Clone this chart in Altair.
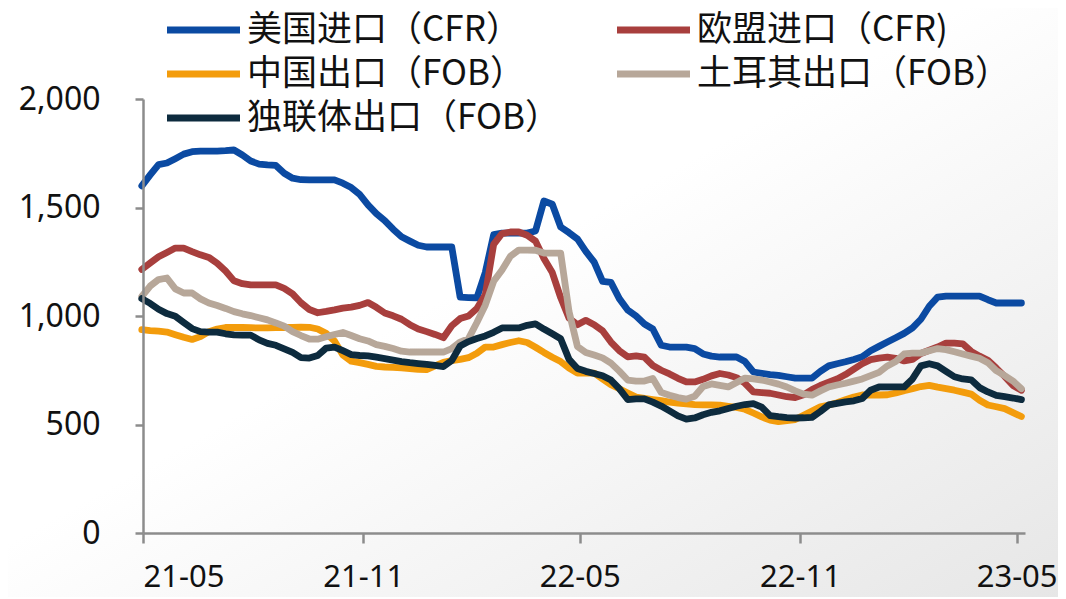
import altair as alt
import pandas as pd

# ---------------- data ----------------
series_names = ["美国进口（CFR）", "欧盟进口（CFR)", "中国出口（FOB）", "土耳其出口（FOB）", "独联体出口（FOB）"]
series_colors = ["#0B4AA2", "#A83F3D", "#F39C0C", "#B7A799", "#0D2B3E"]

# weekly observations (Fridays)
weeks = pd.date_range("2021-04-30", periods=106, freq="7D")

us_import = [1600, 1650, 1698, 1705, 1725, 1746, 1757, 1760, 1760, 1760,
             1762, 1765, 1742, 1714, 1700, 1696, 1694, 1658, 1635, 1628,
             1627, 1627, 1627, 1627, 1612, 1592, 1560, 1512, 1472, 1440,
             1400, 1365, 1345, 1326, 1318, 1318, 1318, 1318, 1087, 1085,
             1084, 1200, 1375, 1382, 1382, 1382, 1382, 1392, 1530, 1515,
             1410, 1384, 1355, 1298, 1248, 1160, 1155, 1080, 1028, 1000,
             963, 940, 865, 857, 857, 857, 850, 825, 815, 811,
             811, 811, 790, 742, 736, 730, 726, 720, 714, 714,
             714, 745, 770, 780, 789, 800, 812, 840, 860, 880,
             900, 920, 945, 985, 1045, 1087, 1092, 1092, 1092, 1092,
             1092, 1075, 1060, 1060, 1060, 1060]

eu_import = [1215, 1244, 1273, 1293, 1313, 1313, 1297, 1282, 1270, 1243,
             1207, 1162, 1149, 1143, 1143, 1143, 1143, 1127, 1102, 1061,
             1030, 1015, 1021, 1028, 1036, 1041, 1049, 1062, 1040, 1014,
             1001, 985, 960, 940, 928, 915, 900, 955, 988, 1000,
             1035, 1098, 1330, 1380, 1387, 1387, 1372, 1345, 1265, 1200,
             1085, 990, 960, 980, 960, 932, 880, 840, 812, 816,
             810, 772, 750, 733, 713, 696, 696, 708, 724, 735,
             728, 716, 690, 650, 647, 644, 636, 628, 624, 637,
             661, 680, 695, 710, 730, 755, 780, 799, 806, 810,
             805, 793, 800, 827, 842, 857, 875, 875, 872, 837,
             815, 796, 760, 722, 680, 658]

cn_export = [937, 933, 930, 926, 914, 902, 892, 905, 928, 940,
             947, 948, 947, 946, 945, 945, 946, 947, 948, 949,
             948, 940, 920, 885, 820, 792, 785, 777, 768, 765,
             763, 761, 758, 754, 753, 770, 786, 794, 800, 808,
             828, 857, 857, 868, 878, 886, 878, 856, 832, 810,
             790, 760, 737, 737, 737, 710, 683, 665, 645, 626,
             620, 615, 610, 603, 598, 595, 592, 590, 590, 589,
             584, 579, 570, 553, 535, 520, 513, 518, 523, 543,
             562, 582, 590, 600, 614, 627, 636, 636, 636, 637,
             645, 656, 665, 675, 680, 672, 665, 658, 649, 640,
             612, 590, 582, 573, 555, 537]

tr_export = [1090, 1138, 1168, 1175, 1125, 1106, 1106, 1079, 1060, 1048,
             1035, 1020, 1010, 1002, 992, 982, 968, 953, 928, 910,
             894, 893, 904, 915, 924, 910, 895, 885, 868, 860,
             850, 838, 834, 834, 834, 834, 834, 850, 880, 896,
             970, 1050, 1160, 1212, 1275, 1304, 1304, 1303, 1290, 1290,
             1290, 1020, 860, 832, 820, 807, 783, 746, 705, 700,
             700, 712, 648, 635, 624, 617, 630, 675, 687, 680,
             673, 694, 714, 710, 705, 696, 686, 673, 655, 640,
             635, 655, 673, 682, 690, 700, 710, 725, 740, 770,
             790, 825, 829, 829, 840, 850, 845, 835, 825, 815,
             805, 785, 748, 725, 700, 665]

cis_export = [1080, 1058, 1031, 1011, 999, 970, 942, 928, 926, 926,
              918, 913, 912, 912, 890, 874, 865, 849, 832, 808,
              806, 818, 852, 857, 840, 822, 818, 816, 810, 804,
              797, 790, 785, 781, 777, 772, 767, 795, 862, 882,
              896, 908, 925, 945, 945, 945, 957, 964, 940, 918,
              895, 800, 758, 745, 735, 725, 705, 665, 615, 618,
              618, 603, 585, 563, 540, 525, 530, 545, 556, 563,
              574, 584, 592, 596, 580, 541, 536, 532, 530, 531,
              533, 560, 590, 597, 604, 609, 620, 658, 673, 673,
              673, 673, 710, 770, 780, 770, 745, 720, 710, 706,
              670, 650, 634, 628, 622, 615]

y_ticks = [0, 500, 1000, 1500, 2000]
x_tick_months = [(2021, 5), (2021, 11), (2022, 5), (2022, 11), (2023, 5)]

rows = []
for name, vals in zip(series_names, [us_import, eu_import, cn_export, tr_export, cis_export]):
    for d, v in zip(weeks, vals):
        rows.append({"date": d, "series": name, "price": v})
df = pd.DataFrame(rows)

# ---------------- chart ----------------
W, H = 882, 434
PAD_L, PAD_T = 135, 91
AXIS_GRAY = "#8c8c8c"

x_domain = [alt.DateTime(year=2021, month=5, date=1), alt.DateTime(year=2023, month=5, date=8)]
tick_dates = [alt.DateTime(year=y, month=m, date=1) for y, m in x_tick_months]

x_enc = alt.X(
    "date:T",
    title=None,
    scale=alt.Scale(domain=x_domain),
    axis=alt.Axis(values=tick_dates, format="%y-%m", tickSize=10, labelPadding=19,
                  labelFont="Noto Sans", labelFontSize=31, labelColor="#111111",
                  domainColor=AXIS_GRAY, domainWidth=2.5, tickColor=AXIS_GRAY, tickWidth=2.5,
                  grid=False, zindex=1),
)
y_enc = alt.Y(
    "price:Q",
    title=None,
    scale=alt.Scale(domain=[0, 2000], nice=False),
    axis=alt.Axis(values=y_ticks, format=",d", tickSize=8, labelPadding=35,
                  labelFont="Noto Sans", labelFontSize=32, labelColor="#111111",
                  domainColor=AXIS_GRAY, domainWidth=2.5, tickColor=AXIS_GRAY, tickWidth=2.5,
                  grid=False, zindex=1),
)

color_scale = alt.Scale(domain=series_names, range=series_colors)

bg = alt.Chart(pd.DataFrame({"k": [0]})).mark_rect(
    fill=alt.LinearGradient(
        gradient="linear", x1=0, y1=0, x2=1, y2=1,
        stops=[alt.GradientStop(offset=0, color="#ffffff"),
               alt.GradientStop(offset=0.45, color="#ffffff"),
               alt.GradientStop(offset=1, color="#e6e6e6")],
    )
).encode(x=alt.value(-PAD_L), x2=alt.value(W + 40), y=alt.value(-PAD_T), y2=alt.value(H + 70))

layers = [bg]
for name in series_names:
    layers.append(
        alt.Chart(df)
        .transform_filter(alt.datum.series == name)
        .mark_line(strokeWidth=6.8, strokeJoin="round", strokeCap="round")
        .encode(x=x_enc, y=y_enc, color=alt.Color("series:N", scale=color_scale, legend=None))
    )

# ---- legend (2 columns, row-major), laid out relative to the plot origin ----
LEG_X0, LEG_COL_W = 24, 450
LEG_Y0, LEG_ROW_H = -69, 44
SYM_LEN, LABEL_GAP = 73, 80
for i, (name, col) in enumerate(zip(series_names, series_colors)):
    c, r = i % 2, i // 2
    sx = LEG_X0 + c * LEG_COL_W
    sy = LEG_Y0 + r * LEG_ROW_H
    lab = alt.Chart(pd.DataFrame({"label": [name]}))
    layers.append(
        lab.mark_rule(strokeWidth=7, color=col).encode(
            x=alt.value(sx), x2=alt.value(sx + SYM_LEN), y=alt.value(sy)
        )
    )
    layers.append(
        lab.mark_text(align="left", baseline="middle", font="Noto Sans CJK SC",
                      fontSize=35, color="#111111").encode(
            x=alt.value(sx + LABEL_GAP), y=alt.value(sy), text="label:N"
        )
    )

chart = alt.layer(*layers).properties(
    width=W, height=H,
    autosize=alt.AutoSizeParams(type="none"),
    padding={"left": PAD_L, "top": PAD_T, "right": 33, "bottom": 64},
    background="#ffffff",
).configure_view(stroke=None)

chart.save("out.html", embed_options={"renderer": "svg", "actions": False})
